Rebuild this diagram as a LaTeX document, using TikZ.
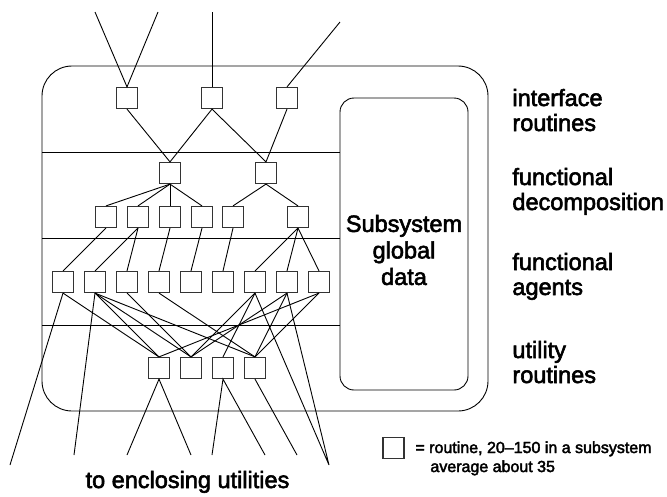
\documentclass[tikz,border=0pt]{standalone}
\usepackage{xcolor}
\usepackage{fontspec}
\setmainfont{Liberation Sans}
\newfontfamily\heavysans[Ligatures=TeX, FakeBold=2.5]{Liberation Sans}

\begin{document}
\begin{tikzpicture}[x=1pt, y=-1pt, line width=0.9pt,
	routine/.style={shape=rectangle, draw=black!80, line width=1.2pt,
		minimum size=21pt, inner sep=0pt},
	layertext/.style={font=\heavysans\fontsize{23.5}{25}\selectfont, align=left,
		anchor=base west, inner sep=0pt}]
	\useasboundingbox (0, 0) rectangle (667, 496);

	% subsystem and its global data
	\draw[rounded corners=30pt] (42, 66) rectangle (488, 411);
	\node[shape=rectangle, draw=black, rounded corners=14pt, inner sep=0pt,
		minimum width=128pt, minimum height=292pt]
		(gbox) at (404, 244) {};
	\node[font=\heavysans\fontsize{23.5}{26.5}\selectfont, align=center]
		(gdata) at (404, 250) {Subsystem\\global\\data};

	\draw (42, 152) -- (340, 152);
	\draw (42, 238) -- (340, 238);
	\draw (42, 325) -- (340, 325);

	% interface routines
	\node[routine] (int1) at (127, 98) {};
	\node[routine] (int2) at (212, 98) {};
	\node[routine] (int3) at (287, 98) {};

	% functional decomposition
	\node[routine] (top1) at (170, 173) {};
	\node[routine] (top2) at (266, 173) {};
	\node[routine] (dec1) at (106, 217) {};
	\node[routine] (dec2) at (138, 217) {};
	\node[routine] (dec3) at (170, 217) {};
	\node[routine] (dec4) at (202, 217) {};
	\node[routine] (dec5) at (233, 217) {};
	\node[routine] (dec6) at (298, 217) {};

	% functional agents
	\node[routine] (agt1) at (63, 282) {};
	\node[routine] (agt2) at (95, 282) {};
	\node[routine] (agt3) at (127, 282) {};
	\node[routine] (agt4) at (159, 282) {};
	\node[routine] (agt5) at (191, 282) {};
	\node[routine] (agt6) at (223, 282) {};
	\node[routine] (agt7) at (255, 282) {};
	\node[routine] (agt8) at (287, 282) {};
	\node[routine] (agt9) at (319, 282) {};

	% utility routines
	\node[routine] (utl1) at (159, 368) {};
	\node[routine] (utl2) at (191, 368) {};
	\node[routine] (utl3) at (223, 368) {};
	\node[routine] (utl4) at (255, 368) {};

	% loose ends, callers above and enclosing utilities below
	\coordinate (in1) at (95, 12);
	\coordinate (in2) at (158, 12);
	\coordinate (in3) at (212, 12);
	\coordinate (in4) at (340, 22);
	\coordinate (out1) at (10, 465);
	\coordinate (out2) at (74, 455);
	\coordinate (out3) at (127, 455);
	\coordinate (out4) at (191, 455);
	\coordinate (out5) at (212, 455);
	\coordinate (out6) at (265, 455);
	\coordinate (out7) at (297, 455);
	\coordinate (out8) at (329, 465);

	\draw (in1) -- (int1.north) -- (in2);
	\draw (in3) -- (int2.north);
	\draw (in4) -- (int3.north);

	\draw (int1.south) -- (top1.north) -- (int2.south) -- (top2.north) -- (int3.south);

	\draw (top1.south) -- (dec1.north);
	\draw (top1.south) -- (dec2.north);
	\draw (top1.south) -- (dec3.north);
	\draw (top1.south) -- (dec4.north);
	\draw (top2.south) -- (dec5.north);
	\draw (top2.south) -- (dec6.north);

	\draw (dec1.south) -- (agt1.north);
	\draw (dec2.south) -- (agt2.north);
	\draw (dec2.south) -- (agt3.north);
	\draw (dec3.south) -- (agt4.north);
	\draw (dec4.south) -- (agt5.north);
	\draw (dec5.south) -- (agt6.north);
	\draw (dec6.south) -- (agt7.north);
	\draw (dec6.south) -- (agt8.north);
	\draw (dec6.south) -- (agt9.north);

	\draw (agt1.south) -- (utl1.north);
	\draw (agt2.south) -- (utl1.north);
	\draw (agt2.south) -- (utl2.north);
	\draw (agt2.south) -- (utl4.north);
	\draw (agt3.south) -- (utl2.north);
	\draw (agt4.south) -- (utl4.north);
	\draw (agt7.south) -- (utl2.north);
	\draw (agt7.south) -- (utl3.north);
	\draw (agt8.south) -- (utl2.north);
	\draw (agt8.south) -- (utl4.north);
	\draw (agt9.south) -- (utl1.north);
	\draw (agt9.south) -- (utl4.north);

	\draw (agt1.south) -- (out1);
	\draw (agt2.south) -- (out2);
	\draw (out3) -- (utl1.south) -- (out4);
	\draw (out5) -- (utl3.south) -- (out6);
	\draw (utl4.south) -- (out7);
	\draw (agt7.south) -- (out8) -- (agt8.south);

	% layer names
	\node[layertext] (intname) at (512, 131) {interface\\routines};
	\node[layertext] (decname) at (512, 210) {functional\\decomposition};
	\node[layertext] (agtname) at (512, 295) {functional\\agents};
	\node[layertext] (utlname) at (512, 383) {utility\\routines};

	\node[font=\heavysans\fontsize{23.5}{25}\selectfont, anchor=base, inner sep=0pt]
		(encl) at (187.5, 488) {to enclosing utilities};

	% legend
	\node[routine] (key) at (393.5, 448) {};
	\node[font=\heavysans\fontsize{16}{19}\selectfont, align=left, anchor=base west, inner sep=0pt]
		(keytext) at (415, 472) {= routine, 20--150 in a subsystem\\\hspace*{15pt}average about 35};
\end{tikzpicture}
\end{document}
